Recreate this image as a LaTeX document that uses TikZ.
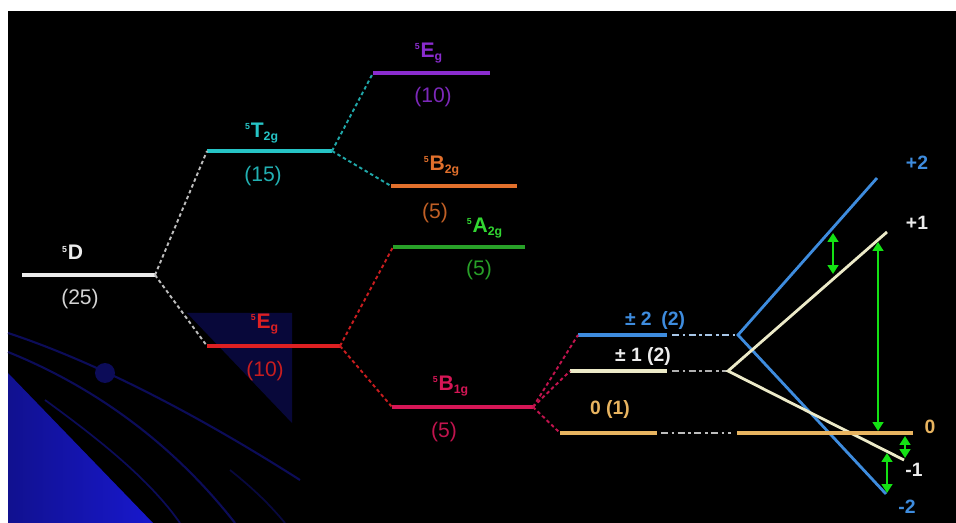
\documentclass[tikz,border=0pt]{standalone}
\usepackage{fontspec}
\setmainfont{Liberation Sans}
\usetikzlibrary{arrows.meta}
\usetikzlibrary{calc}

\definecolor{lvwhite}{RGB}{236,236,236}
\definecolor{lvcyan}{RGB}{38,196,198}
\definecolor{lvred}{RGB}{222,32,34}
\definecolor{lvpurple}{RGB}{138,44,206}
\definecolor{lvorange}{RGB}{226,112,44}
\definecolor{lvgreen}{RGB}{40,160,40}
\definecolor{lbgreen}{RGB}{50,215,50}
\definecolor{lvcrimson}{RGB}{214,22,86}
\definecolor{zmblue}{RGB}{62,140,222}
\definecolor{zmcream}{RGB}{236,234,200}
\definecolor{zmgold}{RGB}{232,180,96}
\definecolor{splitgreen}{RGB}{20,225,20}
\definecolor{navy}{RGB}{12,12,88}
\definecolor{nightblue}{RGB}{8,8,58}
\definecolor{deepblue}{RGB}{24,24,205}

\newcommand{\trm}[3]{\textsuperscript{\tiny#1}#2\textsubscript{\scriptsize#3}}

\tikzset{
  level/.style={line width=2.1pt},
  zline/.style={line width=1.6pt},
  link/.style={line width=1.1pt, dash pattern=on 2pt off 1.6pt},
  tail/.style={line width=0.9pt, dash pattern=on 4pt off 2pt on 1.5pt off 2pt},
  term/.style={font=\bfseries\fontsize{12}{14}\selectfont, inner sep=0pt},
  deg/.style={font=\fontsize{12}{14}\selectfont, inner sep=0pt},
  mj/.style={font=\bfseries\fontsize{11}{13}\selectfont, inner sep=0pt},
  gap/.style={draw=splitgreen, line width=1.4pt,
    {Triangle[length=5pt,width=6pt]}-{Triangle[length=5pt,width=6pt]}},
}

\begin{document}
\begin{tikzpicture}[x=0.02cm, y=-0.02cm]
% frame and background
\useasboundingbox (0,0) rectangle (956,523);
\fill[white] (0,0) rectangle (956,523);
\fill[black] (8,11) rectangle (956,523);
\fill[nightblue] (187,313) -- (292,313) -- (292,423) -- cycle;
\shade[left color=deepblue!70!black, right color=deepblue] (8,373) -- (153,523) -- (8,523) -- cycle;
\draw[navy, line width=1.2pt] (8,333) .. controls (90,360) and (190,410) .. (300,480);
\draw[navy, line width=1.2pt] (8,352) .. controls (90,385) and (170,440) .. (235,523);
\draw[navy, line width=1pt] (45,400) .. controls (100,440) and (150,480) .. (180,523);
\draw[navy!70!black, line width=1pt] (230,470) .. controls (255,490) and (270,505) .. (285,523);
\fill[navy] (105,373) circle (10);

% free ion
\coordinate (D-l) at (22,275);
\coordinate (D-r) at (155,275);
\draw[level, lvwhite] (D-l) -- (D-r);
\node[term, text=lvwhite] (D-t) at (73,254) {\trm{5}{D}{}};
\node[deg, text=lvwhite!90!black] (D-n) at (80,299) {(25)};

% octahedral field
\coordinate (T-l) at (207,151);
\coordinate (T-r) at (332,151);
\draw[level, lvcyan] (T-l) -- (T-r);
\node[term, text=lvcyan] (T-t) at (262,133) {\trm{5}{T}{2g}};
\node[deg, text=lvcyan!90!black] (T-n) at (263,176) {(15)};

\coordinate (E-l) at (207,346);
\coordinate (E-r) at (340,346);
\draw[level, lvred] (E-l) -- (E-r);
\node[term, text=lvred] (E-t) at (265,324) {\trm{5}{E}{g}};
\node[deg, text=lvred!90!black] (E-n) at (265,371) {(10)};

\draw[link, lvwhite!80!black] (D-r) -- (T-l);
\draw[link, lvwhite!80!black] (D-r) -- (E-l);

% tetragonal field
\coordinate (Eg-l) at (373,73);
\coordinate (Eg-r) at (490,73);
\draw[level, lvpurple] (Eg-l) -- (Eg-r);
\node[term, text=lvpurple] (Eg-t) at (429,53) {\trm{5}{E}{g}};
\node[deg, text=lvpurple!90!black] (Eg-n) at (433,97) {(10)};

\coordinate (B2-l) at (391,186);
\coordinate (B2-r) at (517,186);
\draw[level, lvorange] (B2-l) -- (B2-r);
\node[term, text=lvorange] (B2-t) at (442,166) {\trm{5}{B}{2g}};
\node[deg, text=lvorange!85!black] (B2-n) at (435,213) {(5)};

\coordinate (A2-l) at (393,247);
\coordinate (A2-r) at (525,247);
\draw[level, lvgreen] (A2-l) -- (A2-r);
\node[term, text=lbgreen] (A2-t) at (485,228) {\trm{5}{A}{2g}};
\node[deg, text=lvgreen] (A2-n) at (479,270) {(5)};

\coordinate (B1-l) at (392,407);
\coordinate (B1-r) at (533,407);
\draw[level, lvcrimson] (B1-l) -- (B1-r);
\node[term, text=lvcrimson] (B1-t) at (451,386) {\trm{5}{B}{1g}};
\node[deg, text=lvcrimson!90!black] (B1-n) at (444,432) {(5)};

\draw[link, lvcyan!85!black] (T-r) -- (Eg-l);
\draw[link, lvcyan!85!black] (T-r) -- (B2-l);
\draw[link, lvred!90!black] (E-r) -- (A2-l);
\draw[link, lvred!90!black] (E-r) -- (B1-l);

% zero field splitting of 5B1g
\coordinate (m2-l) at (578,335);
\coordinate (m2-r) at (667,335);
\coordinate (m1-l) at (570,371);
\coordinate (m1-r) at (667,371);
\coordinate (m0-l) at (560,433);
\coordinate (m0-r) at (657,433);
\draw[level, zmblue] (m2-l) -- (m2-r);
\draw[level, zmcream] (m1-l) -- (m1-r);
\draw[level, zmgold] (m0-l) -- (m0-r);
\node[mj, text=zmblue] (m2-t) at (655,321) {± 2\enspace(2)};
\node[mj, text=lvwhite] (m1-t) at (643,357) {± 1 (2)};
\node[mj, text=zmgold] (m0-t) at (610,410) {0 (1)};

\draw[link, lvcrimson!90!black] (B1-r) -- (m2-l);
\draw[link, lvcrimson!90!black] (B1-r) -- (m1-l);
\draw[link, lvcrimson!90!black] (B1-r) -- (m0-l);

% Zeeman branches
\coordinate (z2-o) at (738,335);
\coordinate (z2-u) at (877,178);
\coordinate (z2-d) at (886,494);
\coordinate (z1-o) at (728,371);
\coordinate (z1-u) at (887,232);
\coordinate (z1-d) at (904,460);
\coordinate (z0-o) at (737,433);
\coordinate (z0-e) at (913,433);

\draw[tail, zmblue!40!lvwhite] (m2-r) ++(5,0) -- (z2-o);
\draw[tail, lvwhite!75!black] (m1-r) ++(5,0) -- (z1-o);
\draw[tail, lvwhite!80!black] (m0-r) ++(4,0) -- ($(z0-o)+(-6,0)$);

\draw[zline, zmblue] (z2-u) -- (z2-o) -- (z2-d);
\draw[zline, zmcream] (z1-u) -- (z1-o) -- (z1-d);
\draw[level, zmgold] (z0-o) -- (z0-e);

\node[mj, text=zmblue] (p2) at (917,163) {+2};
\node[mj, text=lvwhite] (p1) at (917,223) {+1};
\node[mj, text=zmgold] (p0) at (930,427) {0};
\node[mj, text=lvwhite] (n1) at (914,470) {-1};
\node[mj, text=zmblue] (n2) at (907,507) {-2};

% transitions
\coordinate (g1-a) at (833,233);
\coordinate (g1-b) at (833,274);
\coordinate (g2-a) at (878,242);
\coordinate (g2-b) at (878,431);
\coordinate (g3-a) at (905,436);
\coordinate (g3-b) at (905,458);
\coordinate (g4-a) at (887,453);
\coordinate (g4-b) at (887,493);
\draw[gap] (g1-a) -- (g1-b);
\draw[gap] (g2-a) -- (g2-b);
\draw[gap] (g3-a) -- (g3-b);
\draw[gap] (g4-a) -- (g4-b);
\end{tikzpicture}
\end{document}
